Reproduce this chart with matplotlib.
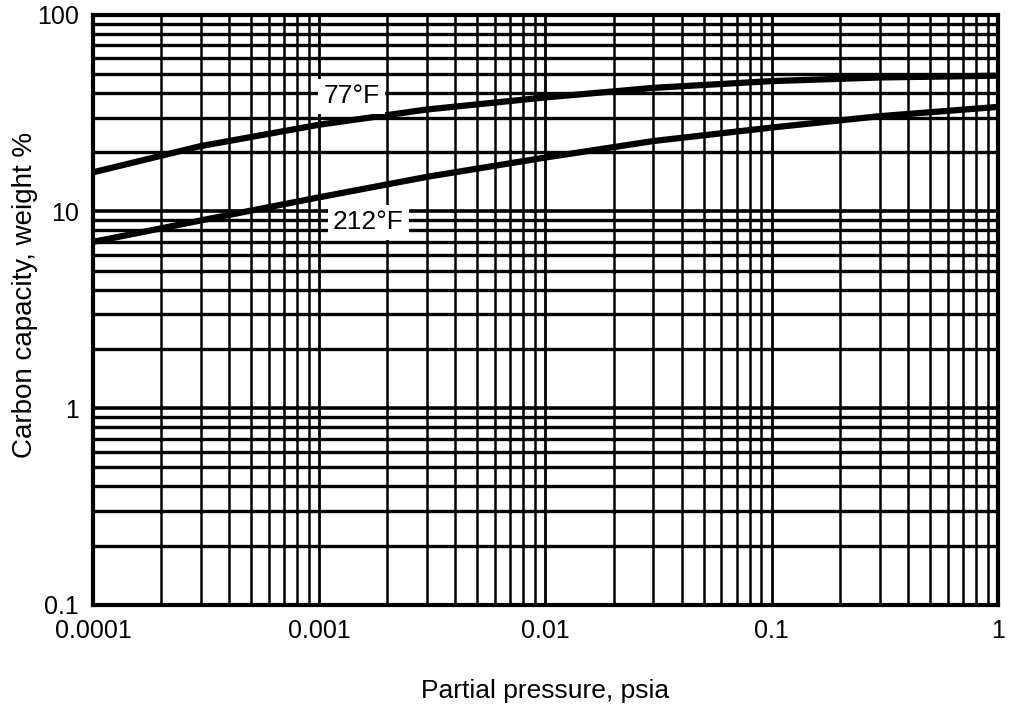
import matplotlib.pyplot as plt
from matplotlib.ticker import LogLocator, FixedLocator, FixedFormatter, NullFormatter

plt.rcParams['font.family'] = ['Liberation Sans', 'DejaVu Sans']

# curves (psia, weight %)
pressure = [0.0001, 0.0003, 0.001, 0.003, 0.01, 0.03, 0.1, 0.3, 1.0]
cap_77 = [15.8, 21.5, 27.6, 33.0, 38.0, 42.5, 46.0, 48.0, 49.0]
cap_212 = [7.0, 9.0, 11.8, 15.0, 18.8, 22.8, 26.7, 30.5, 34.0]

x_ticks = [0.0001, 0.001, 0.01, 0.1, 1]
x_tick_labels = ['0.0001', '0.001', '0.01', '0.1', '1']
y_ticks = [0.1, 1, 10, 100]
y_tick_labels = ['0.1', '1', '10', '100']

fig = plt.figure(figsize=(10.1, 7.04), dpi=100)
ax = fig.add_axes([0.092, 0.141, 0.896, 0.838])
ax.set_xscale('log')
ax.set_yscale('log')
ax.set_xlim(0.0001, 1)
ax.set_ylim(0.1, 100)

ax.xaxis.set_major_locator(FixedLocator(x_ticks))
ax.xaxis.set_major_formatter(FixedFormatter(x_tick_labels))
ax.yaxis.set_major_locator(FixedLocator(y_ticks))
ax.yaxis.set_major_formatter(FixedFormatter(y_tick_labels))
ax.xaxis.set_minor_locator(LogLocator(base=10, subs=range(2, 10)))
ax.yaxis.set_minor_locator(LogLocator(base=10, subs=range(2, 10)))
ax.xaxis.set_minor_formatter(NullFormatter())
ax.yaxis.set_minor_formatter(NullFormatter())

ax.grid(True, which='major', axis='x', color='black', linewidth=2.0)
ax.grid(True, which='minor', axis='x', color='black', linewidth=1.8)
ax.grid(True, which='major', axis='y', color='black', linewidth=2.6)
ax.grid(True, which='minor', axis='y', color='black', linewidth=2.4)
ax.set_axisbelow(True)
ax.tick_params(which='both', length=0, labelsize=18)
ax.tick_params(axis='x', pad=10)
ax.tick_params(axis='y', pad=10)

for side in ax.spines.values():
    side.set_linewidth(3)

ax.plot(pressure, cap_77, color='black', linewidth=4.5, zorder=3)
ax.plot(pressure, cap_212, color='black', linewidth=4.5, zorder=3)

box = dict(boxstyle='square,pad=0.2', facecolor='white', edgecolor='none')
ax.text(0.00139, 38.5, '77°F', fontsize=19, ha='center', va='center', bbox=box, zorder=4)
ax.text(0.00165, 8.8, '212°F', fontsize=19, ha='center', va='center', bbox=box, zorder=4)

ax.set_xlabel('Partial pressure, psia', fontsize=19, labelpad=26)
ax.set_ylabel('Carbon capacity, weight %', fontsize=20)
ax.yaxis.set_label_coords(-0.061, 0.525)

fig.savefig('out.png', dpi=100)
